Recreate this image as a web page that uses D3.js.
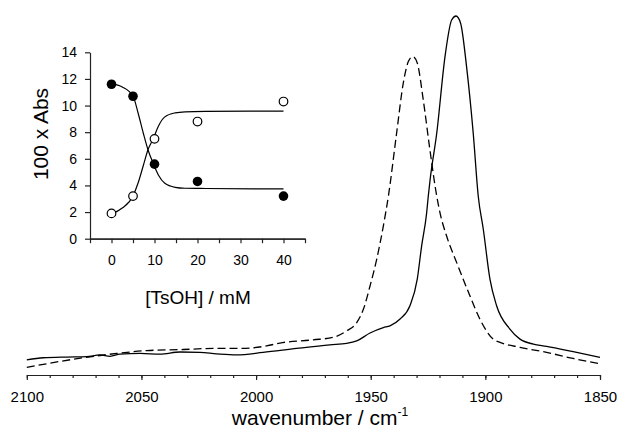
<!DOCTYPE html>
<html>
<head>
<meta charset="utf-8">
<script src="https://cdn.jsdelivr.net/npm/d3@7"></script>
<style>
  body { margin: 0; background: #fff; }
  svg { display: block; font-family: "Liberation Sans", Arial, sans-serif; }
</style>
</head>
<body>
<svg id="svg" width="617" height="440"></svg>
<script>
const w = 617;
const h = 440;

// main spectrum, relative absorbance (peak of solid = 1)
const solidWn = [2100, 2092.8, 2082.6, 2073.9, 2068.1, 2063.7, 2059.4, 2050.6, 2041.9, 2033.2, 2024.5, 2017.2, 2008.5, 1996.9, 1982.3, 1967.8, 1960.5, 1956.1, 1950.3, 1944.5, 1941.6, 1937.2, 1932.9, 1929.7, 1927.8, 1925.6, 1924.9, 1924.1, 1921.2, 1917.6, 1914.7, 1912.8, 1910.8, 1908.2, 1905.3, 1903.1, 1900.9, 1898.0, 1895.1, 1889.3, 1884.9, 1879.1, 1873.3, 1861.7, 1850];
const solidAbs = [0.042, 0.048, 0.050, 0.051, 0.056, 0.052, 0.058, 0.060, 0.058, 0.064, 0.063, 0.059, 0.056, 0.063, 0.074, 0.084, 0.088, 0.095, 0.117, 0.132, 0.137, 0.156, 0.193, 0.267, 0.359, 0.452, 0.498, 0.544, 0.674, 0.887, 0.989, 1.000, 0.980, 0.859, 0.674, 0.498, 0.406, 0.267, 0.193, 0.128, 0.100, 0.086, 0.080, 0.065, 0.049];

const dashWn = [2100, 2089.9, 2075.4, 2060.8, 2047.7, 2031.7, 2018.7, 2007.0, 1995.4, 1989.6, 1975.1, 1966.3, 1960.5, 1956.1, 1953.2, 1950.3, 1947.4, 1944.5, 1942.3, 1938.7, 1935.8, 1933.6, 1931.7, 1929.7, 1927.1, 1924.2, 1921.2, 1919.8, 1916.9, 1912.5, 1906.7, 1902.4, 1896.6, 1893.6, 1884.9, 1873.3, 1861.7, 1850];
const dashAbs = [0.021, 0.033, 0.048, 0.060, 0.068, 0.071, 0.074, 0.074, 0.081, 0.089, 0.098, 0.105, 0.123, 0.146, 0.183, 0.248, 0.322, 0.415, 0.498, 0.674, 0.813, 0.873, 0.887, 0.869, 0.767, 0.628, 0.498, 0.452, 0.387, 0.313, 0.220, 0.156, 0.100, 0.091, 0.077, 0.063, 0.046, 0.031];

const mainTicks = [2100, 2050, 2000, 1950, 1900, 1850];

// inset: titration
const conc = [0, 5, 10, 20, 40];
const filledAbs = [11.6, 10.7, 5.6, 4.3, 3.2];
const openAbs = [1.9, 3.2, 7.5, 8.8, 10.3];

// fitted curves
const fitConc = [0, 2.5, 5, 6.2, 7.4, 8.5, 9.7, 10.9, 12.4, 14.8, 17.1, 21.8, 40];
const fitFilled = [11.65, 11.4, 10.72, 9.42, 7.92, 6.66, 5.66, 4.79, 4.16, 3.86, 3.79, 3.77, 3.74];
const fitOpen = [1.85, 2.3, 3.21, 4.2, 5.5, 6.7, 7.5, 8.45, 9.15, 9.45, 9.53, 9.56, 9.58];

const insetYTicks = [0, 2, 4, 6, 8, 10, 12, 14];
const insetXTicks = [0, 10, 20, 30, 40];

let svg = d3.select("#svg");

// ---------- main spectrum ----------
let xScale = d3.scaleLinear([2100, 1850], [26.8, 600]);
let yScale = d3.scaleLinear([0, 1], [375, 16]);

const minorAxis = d3.axisBottom(xScale)
  .tickValues(d3.range(2100, 1849, -10))
  .tickSize(3)
  .tickSizeOuter(0)
  .tickFormat("");

const majorAxis = d3.axisBottom(xScale)
  .tickValues(mainTicks)
  .tickSize(5)
  .tickSizeOuter(0)
  .tickPadding(11)
  .tickFormat(d3.format("d"));

svg.append("g").attr("transform", "translate(0,375)").call(minorAxis);
let gx = svg.append("g").attr("transform", "translate(0,375)").call(majorAxis);
gx.selectAll("text").attr("font-size", 15).attr("fill", "#000").attr("font-family", "inherit");
svg.selectAll(".domain, .tick line").attr("stroke", "#222").attr("stroke-width", 1.2);

let lineMain = d3.line()
  .x((d) => xScale(d[0]))
  .y((d) => yScale(d[1]))
  .curve(d3.curveMonotoneX);

svg.append("path")
  .datum(d3.zip(dashWn, dashAbs))
  .attr("fill", "none")
  .attr("stroke", "#000")
  .attr("stroke-width", 1.3)
  .attr("stroke-dasharray", "8,4")
  .attr("d", lineMain);

svg.append("path")
  .datum(d3.zip(solidWn, solidAbs))
  .attr("fill", "none")
  .attr("stroke", "#000")
  .attr("stroke-width", 1.3)
  .attr("d", lineMain);

let xTitle = svg.append("text")
  .attr("x", 320)
  .attr("y", 425)
  .attr("text-anchor", "middle")
  .attr("font-size", 21)
  .text("wavenumber / cm");
xTitle.append("tspan")
  .attr("dy", -9)
  .attr("font-size", 12)
  .text("-1");

// ---------- inset ----------
let xIn = d3.scaleLinear([-5, 45], [90, 305]);
let yIn = d3.scaleLinear([0, 14], [238.7, 52.3]);

let inset = svg.append("g");

let gyIn = inset.append("g")
  .attr("transform", "translate(90,0)")
  .call(d3.axisLeft(yIn).tickValues(insetYTicks).tickSize(5).tickSizeOuter(0).tickPadding(8));

inset.append("g")
  .attr("transform", "translate(0,238.7)")
  .call(d3.axisBottom(xIn).tickValues([-5, 5, 15, 25, 35, 45]).tickSize(4.5).tickSizeOuter(0).tickFormat(""));

let gxIn = inset.append("g")
  .attr("transform", "translate(0,238.7)")
  .call(d3.axisBottom(xIn).tickValues(insetXTicks).tickSize(4.5).tickSizeOuter(0).tickPadding(12));

inset.selectAll("text").attr("font-size", 14).attr("fill", "#000").attr("font-family", "inherit");
inset.selectAll(".domain, .tick line").attr("stroke", "#222").attr("stroke-width", 1.2);

let lineIn = d3.line()
  .x((d) => xIn(d[0]))
  .y((d) => yIn(d[1]))
  .curve(d3.curveMonotoneX);

inset.append("path")
  .datum(d3.zip(fitConc, fitFilled))
  .attr("fill", "none")
  .attr("stroke", "#000")
  .attr("stroke-width", 1.2)
  .attr("d", lineIn);

inset.append("path")
  .datum(d3.zip(fitConc, fitOpen))
  .attr("fill", "none")
  .attr("stroke", "#000")
  .attr("stroke-width", 1.2)
  .attr("d", lineIn);

inset.selectAll("circle.filled")
  .data(d3.zip(conc, filledAbs))
  .join("circle")
  .attr("class", "filled")
  .attr("cx", (d) => xIn(d[0]))
  .attr("cy", (d) => yIn(d[1]))
  .attr("r", 4.8)
  .attr("fill", "#000");

inset.selectAll("circle.open")
  .data(d3.zip(conc, openAbs))
  .join("circle")
  .attr("class", "open")
  .attr("cx", (d) => xIn(d[0]))
  .attr("cy", (d) => yIn(d[1]))
  .attr("r", 4.3)
  .attr("fill", "#fff")
  .attr("stroke", "#000")
  .attr("stroke-width", 1.2);

inset.append("text")
  .attr("x", 198)
  .attr("y", 304)
  .attr("text-anchor", "middle")
  .attr("font-size", 19)
  .text("[TsOH] / mM");

inset.append("text")
  .attr("transform", "translate(48,134) rotate(-90)")
  .attr("text-anchor", "middle")
  .attr("font-size", 21)
  .text("100 x Abs");
</script>
</body>
</html>
